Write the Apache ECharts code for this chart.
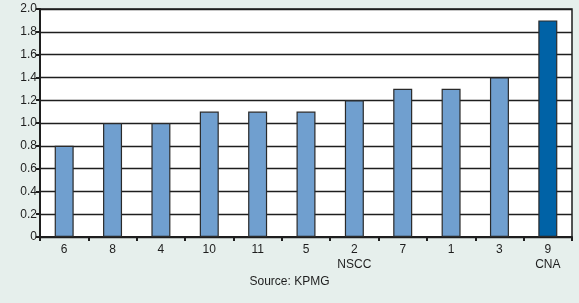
<!DOCTYPE html>
<html>
<head>
<meta charset="utf-8">
<script src="https://cdn.jsdelivr.net/npm/echarts@6/dist/echarts.min.js"></script>
<style>
  html, body { margin: 0; padding: 0; background: #e6efec; }
  #main { width: 579px; height: 303px; }
</style>
</head>
<body>
<div id="main"></div>
<script>
var categories = ['6', '8', '4', '10', '11', '5', '2\nNSCC', '7', '1', '3', '9\nCNA']
var values = [0.8, 1.0, 1.0, 1.1, 1.1, 1.1, 1.2, 1.3, 1.3, 1.4, 1.9]
var highlight = '9\nCNA'
var yTickLabels = ['0', '0.2', '0.4', '0.6', '0.8', '1.0', '1.2', '1.4', '1.6', '1.8', '2.0']

var font = '"Liberation Sans Narrow", "Liberation Sans", Arial, sans-serif'
var myChart = echarts.init(document.getElementById('main'))

var option = {
  backgroundColor: '#e6efec',
  animation: false,
  grid: {
    left: 40,
    right: 7,
    top: 9,
    bottom: 66,
    show: true,
    backgroundColor: '#ffffff',
    borderColor: '#1e1e1e',
    borderWidth: 1.5
  },
  xAxis: {
    type: 'category',
    data: categories,
    axisLine: { lineStyle: { color: '#1e1e1e', width: 2 } },
    axisTick: { show: true, length: 4, lineStyle: { color: '#1e1e1e', width: 2 } },
    axisLabel: {
      color: '#1e1e1e',
      fontFamily: font,
      fontSize: 12,
      margin: 5,
      lineHeight: 15
    }
  },
  yAxis: {
    type: 'value',
    min: 0,
    max: 2,
    interval: 0.2,
    axisLine: { show: true, lineStyle: { color: '#1e1e1e', width: 2 } },
    axisTick: { show: true, length: 4, lineStyle: { color: '#1e1e1e', width: 2 } },
    splitLine: { show: true, lineStyle: { color: '#1e1e1e', width: 1.4 } },
    axisLabel: {
      color: '#1e1e1e',
      fontFamily: font,
      fontSize: 12,
      margin: 3,
      formatter: function (v) {
        return yTickLabels[Math.round(v * 5)]
      }
    }
  },
  series: [{
    type: 'bar',
    barWidth: 19,
    data: values.map(function (v, i) {
      return {
        value: v,
        itemStyle: {
          color: categories[i] === highlight ? '#0062a6' : '#709fcf',
          borderColor: '#2a2a2a',
          borderWidth: 1.2
        }
      }
    })
  }],
  graphic: [{
    type: 'text',
    left: 'center',
    top: 276,
    style: {
      text: 'Source: KPMG',
      fontFamily: font,
      fontSize: 12,
      fill: '#1e1e1e'
    }
  }]
}

myChart.setOption(option)
</script>
</body>
</html>
